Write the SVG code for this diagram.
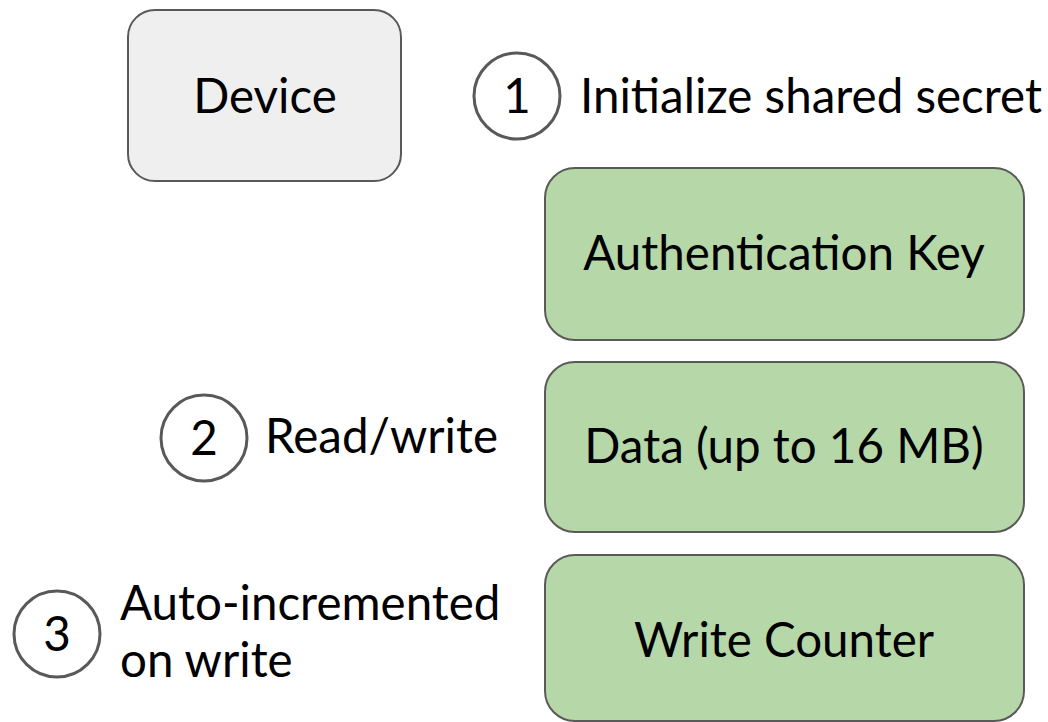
<svg xmlns="http://www.w3.org/2000/svg" width="1048" height="722" viewBox="0 0 1048 722">
<style>
.box{stroke:#595959;stroke-width:2}
.dev{fill:#efefef}
.mem{fill:#b6d7a8}
.num{fill:none;stroke:#595959;stroke-width:3}
text{font-family:Lato,"Open Sans",sans-serif;font-size:47.5px;fill:#000}
.c{text-anchor:middle}
</style>
<rect width="1048" height="722" fill="#fff"/>
<g id="device">
<rect class="box dev" x="128" y="10" width="273" height="171" rx="27"/>
<text class="c" x="265" y="113">Device</text>
</g>
<g id="auth-key">
<rect class="box mem" x="545" y="168" width="479" height="172" rx="30"/>
<text class="c" x="784" y="270">Authentication Key</text>
</g>
<g id="data">
<rect class="box mem" x="545" y="362" width="479" height="170" rx="30"/>
<text class="c" x="784" y="463">Data (up to 16 MB)</text>
</g>
<g id="write-counter">
<rect class="box mem" x="545" y="555" width="479" height="166" rx="30"/>
<text class="c" x="784" y="657">Write Counter</text>
</g>
<g id="step1">
<circle class="num" cx="517" cy="96" r="43"/>
<text class="c" x="517" y="113">1</text>
<text x="580" y="113">Initialize shared secret</text>
</g>
<g id="step2">
<circle class="num" cx="204" cy="438" r="43"/>
<text class="c" x="204" y="455">2</text>
<text x="265" y="453">Read/write</text>
</g>
<g id="step3">
<circle class="num" cx="57" cy="634" r="43"/>
<text class="c" x="57" y="651">3</text>
<text x="120" y="620">Auto-incremented</text>
<text x="120" y="677">on write</text>
</g>
<g id="connectors"></g>
</svg>
